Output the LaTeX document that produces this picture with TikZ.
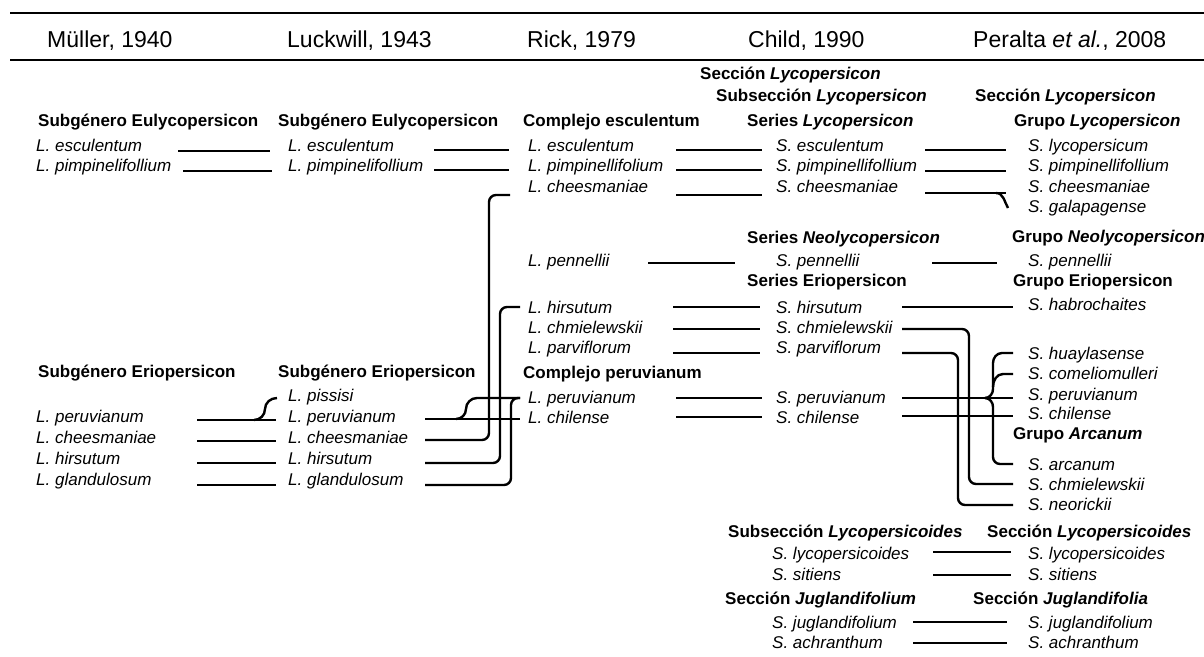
\documentclass[tikz,border=0pt]{standalone}
\usepackage{fontspec}
\setmainfont{Liberation Sans}
\usetikzlibrary{calc}
\tikzset{
  yearhead/.style={anchor=base west,inner sep=0pt,font=\fontsize{23}{27}\selectfont},
  taxgroup/.style={anchor=base west,inner sep=0pt,font=\fontsize{17}{20}\selectfont\bfseries},
  species/.style={anchor=base west,inner sep=0pt,font=\fontsize{17}{20}\selectfont\itshape},
  link/.style={line width=2.4pt},
  elbow/.style={link,rounded corners=7pt},
  headrule/.style={line width=2.8pt}
}
\begin{document}
\begin{tikzpicture}[x=1pt,y=-1pt]
  \useasboundingbox (0,0) rectangle (1204,656);
  % header
  \draw[headrule] (10,13) -- (1204,13);
  \draw[headrule] (10,60) -- (1204,60);
  \node[yearhead] (h-mul) at (47,47) {Müller, 1940};
  \node[yearhead] (h-luc) at (287,47) {Luckwill, 1943};
  \node[yearhead] (h-ric) at (527,47) {Rick, 1979};
  \node[yearhead] (h-chi) at (748,47) {Child, 1990};
  \node[yearhead] (h-per) at (973,47) {Peralta \textit{et al.}, 2008};
  % Mueller 1940
  \node[taxgroup] (m-eul) at (38,126) {Subgénero Eulycopersicon};
  \node[species] (m-esc) at (36,151) {L. esculentum};
  \node[species] (m-pim) at (36,171) {L. pimpinelifollium};
  \node[taxgroup] (m-eri) at (38,377) {Subgénero Eriopersicon};
  \node[species] (m-per) at (36,422) {L. peruvianum};
  \node[species] (m-che) at (36,443) {L. cheesmaniae};
  \node[species] (m-hir) at (36,464) {L. hirsutum};
  \node[species] (m-gla) at (36,485) {L. glandulosum};
  % Luckwill 1943
  \node[taxgroup] (l-eul) at (278,126) {Subgénero Eulycopersicon};
  \node[species] (l-esc) at (288,151) {L. esculentum};
  \node[species] (l-pim) at (288,171) {L. pimpinelifollium};
  \node[taxgroup] (l-eri) at (278,377) {Subgénero Eriopersicon};
  \node[species] (l-pis) at (288,401) {L. pissisi};
  \node[species] (l-per) at (288,422) {L. peruvianum};
  \node[species] (l-che) at (288,443) {L. cheesmaniae};
  \node[species] (l-hir) at (288,464) {L. hirsutum};
  \node[species] (l-gla) at (288,485) {L. glandulosum};
  % Rick 1979
  \node[taxgroup] (r-escg) at (523,126) {Complejo esculentum};
  \node[species] (r-esc) at (528,151) {L. esculentum};
  \node[species] (r-pim) at (528,171) {L. pimpinellifolium};
  \node[species] (r-che) at (528,192) {L. cheesmaniae};
  \node[species] (r-pen) at (528,266) {L. pennellii};
  \node[species] (r-hir) at (528,313) {L. hirsutum};
  \node[species] (r-chm) at (528,333) {L. chmielewskii};
  \node[species] (r-par) at (528,353) {L. parviflorum};
  \node[taxgroup] (r-perg) at (523,378) {Complejo peruvianum};
  \node[species] (r-per) at (528,403) {L. peruvianum};
  \node[species] (r-chi) at (528,423) {L. chilense};
  % Child 1990
  \node[taxgroup] (c-sec) at (700,79) {Sección \textit{Lycopersicon}};
  \node[taxgroup] (c-sub) at (716,101) {Subsección \textit{Lycopersicon}};
  \node[taxgroup] (c-ser1) at (747,126) {Series \textit{Lycopersicon}};
  \node[species] (c-esc) at (776,151) {S. esculentum};
  \node[species] (c-pim) at (776,171) {S. pimpinellifollium};
  \node[species] (c-che) at (776,192) {S. cheesmaniae};
  \node[taxgroup] (c-ser2) at (747,243) {Series \textit{Neolycopersicon}};
  \node[species] (c-pen) at (776,266) {S. pennellii};
  \node[taxgroup] (c-ser3) at (747,286) {Series Eriopersicon};
  \node[species] (c-hir) at (776,313) {S. hirsutum};
  \node[species] (c-chm) at (776,333) {S. chmielewskii};
  \node[species] (c-par) at (776,353) {S. parviflorum};
  \node[species] (c-per) at (776,403) {S. peruvianum};
  \node[species] (c-chi) at (776,423) {S. chilense};
  \node[taxgroup] (c-sub2) at (728,537) {Subsección \textit{Lycopersicoides}};
  \node[species] (c-lyc) at (772,559) {S. lycopersicoides};
  \node[species] (c-sit) at (772,580) {S. sitiens};
  \node[taxgroup] (c-sec2) at (725,604) {Sección \textit{Juglandifolium}};
  \node[species] (c-jug) at (772,628) {S. juglandifolium};
  \node[species] (c-ach) at (772,648) {S. achranthum};
  % Peralta et al. 2008
  \node[taxgroup] (p-sec) at (975,101) {Sección \textit{Lycopersicon}};
  \node[taxgroup] (p-gru1) at (1014,126) {Grupo \textit{Lycopersicon}};
  \node[species] (p-lyc) at (1028,151) {S. lycopersicum};
  \node[species] (p-pim) at (1028,171) {S. pimpinellifollium};
  \node[species] (p-che) at (1028,192) {S. cheesmaniae};
  \node[species] (p-gal) at (1028,212) {S. galapagense};
  \node[taxgroup] (p-gru2) at (1012,242) {Grupo \textit{Neolycopersicon}};
  \node[species] (p-pen) at (1028,266) {S. pennellii};
  \node[taxgroup] (p-gru3) at (1013,286) {Grupo Eriopersicon};
  \node[species] (p-hab) at (1028,310) {S. habrochaites};
  \node[species] (p-hua) at (1028,359) {S. huaylasense};
  \node[species] (p-cor) at (1028,379) {S. comeliomulleri};
  \node[species] (p-per) at (1028,400) {S. peruvianum};
  \node[species] (p-chi) at (1028,419) {S. chilense};
  \node[taxgroup] (p-gru4) at (1013,439) {Grupo \textit{Arcanum}};
  \node[species] (p-arc) at (1028,470) {S. arcanum};
  \node[species] (p-chm) at (1028,490) {S. chmielewskii};
  \node[species] (p-neo) at (1028,510) {S. neorickii};
  \node[taxgroup] (p-sec2) at (987,537) {Sección \textit{Lycopersicoides}};
  \node[species] (p-lyc2) at (1028,559) {S. lycopersicoides};
  \node[species] (p-sit) at (1028,580) {S. sitiens};
  \node[taxgroup] (p-sec3) at (973,604) {Sección \textit{Juglandifolia}};
  \node[species] (p-jug) at (1028,628) {S. juglandifolium};
  \node[species] (p-ach) at (1028,648) {S. achranthum};

  % Mueller -> Luckwill
  \draw[link] (m-esc.base -| 178,0) -- (l-esc.base -| 270,0);
  \draw[link] (m-pim.base -| 183,0) -- (l-pim.base -| 272,0);
  \draw[link] ($(m-per.base -| 197,0)+(0,-2)$) -- ++(79,0);
  \draw[link] ($(m-che.base -| 197,0)+(0,-2)$) -- ++(79,0);
  \draw[link] ($(m-hir.base -| 197,0)+(0,-1)$) -- ++(79,0);
  \draw[link] (m-gla.base -| 197,0) -- (l-gla.base -| 276,0);
  \draw[link] ($(m-per.base -| 254,0)+(0,-2)$) to[out=0,in=-90] ++(11,-11)
    to[out=90,in=180] ($(l-pis.base -| 277,0)+(0,-3)$);
  % Luckwill -> Rick
  \draw[link] ($(l-esc.base -| 434,0)+(0,-1)$) -- ++(75,0);
  \draw[link] ($(l-pim.base -| 434,0)+(0,-1)$) -- ++(75,0);
  \draw[link] ($(l-per.base -| 425,0)+(0,-3)$) -- ++(95,0);
  \draw[link] ($(l-per.base -| 456,0)+(0,-3)$) to[out=0,in=-90] ++(10,-10)
    to[out=90,in=180] ($(r-per.base -| 477,0)+(0,-5)$) -- ++(43,0);
  \draw[elbow] ($(l-che.base -| 425,0)+(0,-3)$) -| ($(r-che.base -| 489,0)+(0,3)$) -- ++(21,0);
  \draw[elbow] ($(l-hir.base -| 425,0)+(0,-1)$) -| ($(r-hir.base -| 500,0)+(0,-6)$) -- ++(20,0);
  \draw[elbow] (l-gla.base -| 425,0) -| ($(r-per.base -| 511,0)+(0,-5)$) -- ++(9,0);
  % Rick -> Child
  \draw[link] ($(r-esc.base -| 676,0)+(0,-1)$) -- ++(86,0);
  \draw[link] ($(r-pim.base -| 676,0)+(0,-1)$) -- ++(86,0);
  \draw[link] ($(r-che.base -| 676,0)+(0,3)$) -- ++(86,0);
  \draw[link] ($(r-pen.base -| 648,0)+(0,-3)$) -- ++(87,0);
  \draw[link] ($(r-hir.base -| 673,0)+(0,-6)$) -- ++(87,0);
  \draw[link] ($(r-chm.base -| 673,0)+(0,-4)$) -- ++(87,0);
  \draw[link] (r-par.base -| 673,0) -- (c-par.base -| 760,0);
  \draw[link] ($(r-per.base -| 676,0)+(0,-5)$) -- ++(86,0);
  \draw[link] ($(r-chi.base -| 676,0)+(0,-6)$) -- ++(86,0);
  % Child -> Peralta et al.
  \draw[link] ($(c-esc.base -| 925,0)+(0,-1)$) -- ++(81,0);
  \draw[link] (c-pim.base -| 925,0) -- (p-pim.base -| 1006,0);
  \draw[link] ($(c-che.base -| 925,0)+(0,1)$) -- ++(81,0);
  \draw[link] ($(c-che.base -| 996,0)+(0,1)$) to[out=0,in=120] ($(p-gal.base -| 1008,0)+(0,-4)$);
  \draw[link] ($(c-pen.base -| 932,0)+(0,-3)$) -- ++(65,0);
  \draw[link] ($(c-hir.base -| 902,0)+(0,-6)$) -- ++(111,0);
  \draw[elbow] ($(c-chm.base -| 902,0)+(0,-4)$) -| ($(p-chm.base -| 969,0)+(0,-6)$) -- ++(44,0);
  \draw[elbow] (c-par.base -| 902,0) -| ($(p-neo.base -| 958,0)+(0,-5)$) -- ++(55,0);
  \draw[link] ($(c-per.base -| 902,0)+(0,-5)$) -- ++(111,0);
  \draw[link] ($(c-chi.base -| 902,0)+(0,-7)$) -- ++(111,0);
  \draw[link] ($(c-per.base -| 985,0)+(0,-5)$) to[out=0,in=-90] ++(8,-9) -- ++(0,-26)
    to[out=90,in=180] ($(p-hua.base -| 1002,0)+(0,-6)$) -- ++(11,0);
  \draw[link] ($(p-cor.base -| 993,0)+(0,8)$) to[out=90,in=180] ($(p-cor.base -| 1003,0)+(0,-5)$) -- ++(10,0);
  \draw[link] ($(c-per.base -| 985,0)+(0,-5)$) to[out=0,in=90] ++(8,9)
    [rounded corners=7pt] |- ($(p-arc.base -| 1013,0)+(0,-6)$);
  \draw[link] ($(c-lyc.base -| 933,0)+(0,-7)$) -- ++(78,0);
  \draw[link] ($(c-sit.base -| 933,0)+(0,-5)$) -- ++(78,0);
  \draw[link] ($(c-jug.base -| 913,0)+(0,-6)$) -- ++(94,0);
  \draw[link] ($(c-ach.base -| 913,0)+(0,-5)$) -- ++(94,0);
\end{tikzpicture}
\end{document}
